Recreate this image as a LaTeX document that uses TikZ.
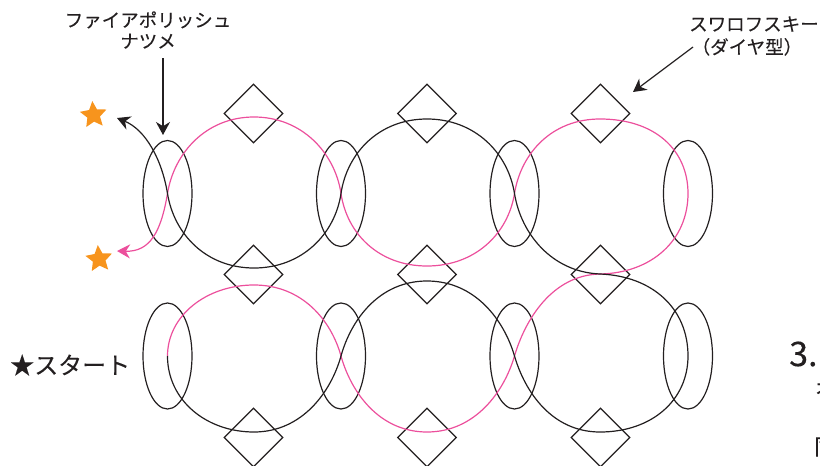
\documentclass[tikz,border=0pt]{standalone}
\usepackage{fontspec}
\setmainfont[FakeBold=0.12]{Noto Sans CJK JP}
\usepackage{xcolor}
\usepackage{tikz}
\usetikzlibrary{positioning,arrows.meta,calc,shapes.geometric}
\definecolor{threadpink}{HTML}{EC4F9C}
\definecolor{starorange}{HTML}{F7941D}
\definecolor{inkblack}{HTML}{231F20}
\tikzset{
  polish/.style={draw=inkblack,ellipse,minimum width=49,minimum height=106,inner sep=0,line width=1.2},
  crystal/.style={draw=inkblack,diamond,minimum width=59,minimum height=59,inner sep=0,line width=1.2},
  pinkthread/.style={draw=threadpink,line width=1.2},
  callout/.style={draw=inkblack,line width=1.2,-{Stealth[length=13,width=14]}},
  tipstar/.style={star,star points=5,star point ratio=2.1,fill=starorange,minimum size=28,inner sep=0,rotate=5},
  caption/.style={font=\fontsize{18.5}{21}\selectfont,text=inkblack,align=center,inner sep=0}
}
\begin{document}
\begin{tikzpicture}[x=1pt,y=-1pt]
\useasboundingbox (0,0) rectangle (820,466);
\clip (0,0) rectangle (820,466);
\foreach \cx [count=\i] in {167.5,341,514.5,688}{
  \node[polish] (t\i) at (\cx,193.5) {};
  \node[polish] (b\i) at (\cx,356) {};
}
\foreach \cx [count=\i] in {253.5,427,600.5}{
  \node[crystal] (d\i) at (\cx,113.5) {};
  \node[crystal] (m\i) at (\cx,274.5) {};
  \node[crystal] (u\i) at (\cx,437.5) {};
}
\node[tipstar] (s1) at (93.5,115) {};
\node[tipstar] (s2) at (99,259) {};
\coordinate (e1) at (117,118);
\coordinate (e2) at (117,251);
% thread pink
\draw[pinkthread,-{Stealth[length=13,width=14]}] (b1.center) .. controls (167.5,316) and (206,285) .. (254,285)
  .. controls (302,285) and (331,320) .. (341,356)
  .. controls (351,392) and (379,432) .. (427,432)
  .. controls (475,432) and (504,392) .. (514.5,356)
  .. controls (525,320) and (552,275) .. (600,274)
  .. controls (652,273) and (688,240) .. (688,193.5)
  .. controls (688,150) and (655,119) .. (600,119)
  .. controls (552,119) and (521,153) .. (514.5,193.5)
  .. controls (508,234) and (475,266) .. (427,266)
  .. controls (379,266) and (347,234) .. (341,193.5)
  .. controls (335,153) and (302,117) .. (254,117)
  .. controls (206,117) and (174,153) .. (167.5,193.5)
  .. controls (161,232) and (150,252) .. (e2);
% thread black
\draw[callout] (b1.center) .. controls (167.5,400) and (206,432) .. (254,432)
  .. controls (302,432) and (331,392) .. (341,356)
  .. controls (351,320) and (379,281) .. (427,281)
  .. controls (475,281) and (504,320) .. (514.5,356)
  .. controls (525,392) and (552,432) .. (600,432)
  .. controls (652,432) and (688,400) .. (688,356)
  .. controls (688,308) and (652,276) .. (600,274)
  .. controls (552,272) and (521,234) .. (514.5,193.5)
  .. controls (508,153) and (475,119) .. (427,119)
  .. controls (379,119) and (347,153) .. (341,193.5)
  .. controls (335,234) and (302,268) .. (254,268)
  .. controls (206,268) and (174,234) .. (167.5,193.5)
  .. controls (162,160) and (146,130) .. (e1);
% labels
\node[caption] (lname) at (148,30) {ファイアポリッシュ\\ナツメ};
\node[caption,anchor=west] (lcrystal) at (689,36) {スワロフスキー\\[2pt]\hspace*{-14pt}（ダイヤ型）};
\node[anchor=west,inner sep=0,text=inkblack,font=\fontsize{24}{27}\selectfont] (lstart) at (10,365) {★スタート};
\node[anchor=west,inner sep=0,text=inkblack,font=\fontsize{34}{36}\selectfont] (lthree) at (789,354) {3.};
\node[anchor=west,inner sep=0,text=inkblack,font=\fontsize{20}{24}\selectfont] (lnext) at (815,388) {オ};
\node[anchor=west,inner sep=0,text=inkblack,font=\fontsize{22}{24}\selectfont] (lbody) at (814,447) {同};
\coordinate (a1) at (163,58);
\coordinate (a2) at (693,47);
\draw[callout] (a1) -- (163,135);
\draw[callout] (a2) -- (633,92);
\end{tikzpicture}
\end{document}
